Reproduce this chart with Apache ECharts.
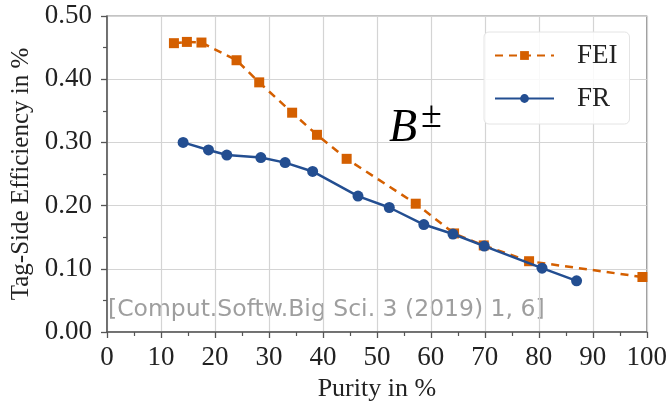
<!DOCTYPE html>
<html>
<head>
<meta charset="utf-8">
<script src="https://cdn.jsdelivr.net/npm/echarts@6/dist/echarts.min.js"></script>
<style>
  html, body { margin: 0; padding: 0; background: #fff; }
  #chart { width: 670px; height: 407px; }
</style>
</head>
<body>
<div id="chart"></div>
<script>
// Tag-side efficiency vs. purity for B± mesons: FEI and FR
const feiPurity = [12.4, 14.8, 17.5, 24.0, 28.2, 34.3, 38.9, 44.4, 57.2, 64.3, 69.8, 78.2, 99.2];
const feiEff    = [0.457, 0.459, 0.458, 0.430, 0.395, 0.347, 0.312, 0.274, 0.203, 0.156, 0.137, 0.112, 0.087];

const frPurity = [14.1, 18.8, 22.2, 28.5, 33.0, 38.1, 46.5, 52.3, 58.7, 64.1, 69.9, 80.6, 87.0];
const frEff    = [0.300, 0.288, 0.280, 0.276, 0.268, 0.254, 0.215, 0.197, 0.170, 0.155, 0.136, 0.101, 0.081];

const xTicks = [0, 10, 20, 30, 40, 50, 60, 70, 80, 90, 100];
const yTicks = [0.00, 0.10, 0.20, 0.30, 0.40, 0.50];

const orange = '#d45f00';
const blue = '#234e91';
const serif = '"Liberation Serif", "DejaVu Serif", serif';

const chart = echarts.init(document.getElementById('chart'), null, { renderer: 'canvas' });

const zip = (xs, ys) => xs.map((x, i) => [x, ys[i]]);

chart.setOption({
  animation: false,
  backgroundColor: '#fff',
  grid: {
    left: 107, right: 23, top: 16, bottom: 74,
    show: true, borderColor: '#8a8a8a', borderWidth: 1.2, backgroundColor: 'transparent'
  },
  xAxis: {
    type: 'value',
    min: xTicks[0], max: xTicks[xTicks.length - 1], interval: 10,
    name: 'Purity in %',
    nameLocation: 'middle', nameGap: 44,
    nameTextStyle: { fontFamily: serif, fontSize: 26, color: '#222' },
    axisLine: { show: true, onZero: false, lineStyle: { color: '#555', width: 1.5 } },
    axisTick: { show: true, length: 6, lineStyle: { color: '#555', width: 1.3 } },
    minorTick: { show: true, splitNumber: 2, length: 4, lineStyle: { color: '#555', width: 1.2 } },
    axisLabel: { fontFamily: serif, fontSize: 27, color: '#222', margin: 12 },
    splitLine: { show: true, lineStyle: { color: '#d4d4d4', width: 1.2 } }
  },
  yAxis: {
    type: 'value',
    min: yTicks[0], max: yTicks[yTicks.length - 1], interval: 0.1,
    name: 'Tag-Side Efficiency in %',
    nameLocation: 'middle', nameGap: 68,
    nameTextStyle: { fontFamily: serif, fontSize: 25, color: '#222' },
    axisLine: { show: true, onZero: false, lineStyle: { color: '#555', width: 1.5 } },
    axisTick: { show: true, length: 6, lineStyle: { color: '#555', width: 1.3 } },
    minorTick: { show: true, splitNumber: 2, length: 4, lineStyle: { color: '#555', width: 1.2 } },
    axisLabel: { fontFamily: serif, fontSize: 27, color: '#222', margin: 15,
                 formatter: v => v.toFixed(2) },
    splitLine: { show: true, lineStyle: { color: '#d4d4d4', width: 1.2 } }
  },
  legend: {
    orient: 'vertical',
    left: 484, top: 32,
    width: 148,
    padding: [10, 12, 12, 10],
    itemGap: 16,
    itemWidth: 59, itemHeight: 11,
    backgroundColor: 'rgba(255,255,255,0.85)',
    borderColor: '#e4e4e4', borderWidth: 1, borderRadius: 5,
    textStyle: { fontFamily: serif, fontSize: 27, color: '#222', padding: [0, 0, 0, 18] },
    data: ['FEI', 'FR']
  },
  graphic: [
    {
      type: 'text', left: 108, top: 298, z: 0, silent: true,
      style: {
        text: '[Comput.Softw.Big Sci. 3 (2019) 1, 6]',
        font: '23.5px "DejaVu Sans", sans-serif',
        fill: 'rgba(125,125,125,0.75)'
      }
    },
    {
      type: 'text', left: 389, top: 98, z: 10, silent: true,
      style: {
        text: '{b|B}{s|±}',
        rich: {
          b: { fontFamily: serif, fontStyle: 'italic', fontSize: 46, fill: '#000', verticalAlign: 'bottom' },
          s: { fontFamily: serif, fontSize: 38, fill: '#000', verticalAlign: 'top', padding: [0, 0, 16, 4] }
        }
      }
    }
  ],
  series: [
    {
      name: 'FEI', type: 'line',
      data: zip(feiPurity, feiEff),
      symbol: 'rect', symbolSize: 10,
      color: orange,
      lineStyle: { color: orange, width: 2.5, type: [8, 6] },
      itemStyle: { color: orange },
      z: 3
    },
    {
      name: 'FR', type: 'line',
      data: zip(frPurity, frEff),
      symbol: 'circle', symbolSize: 11,
      color: blue,
      lineStyle: { color: blue, width: 2.5 },
      itemStyle: { color: blue },
      z: 4
    }
  ]
});
</script>
</body>
</html>
